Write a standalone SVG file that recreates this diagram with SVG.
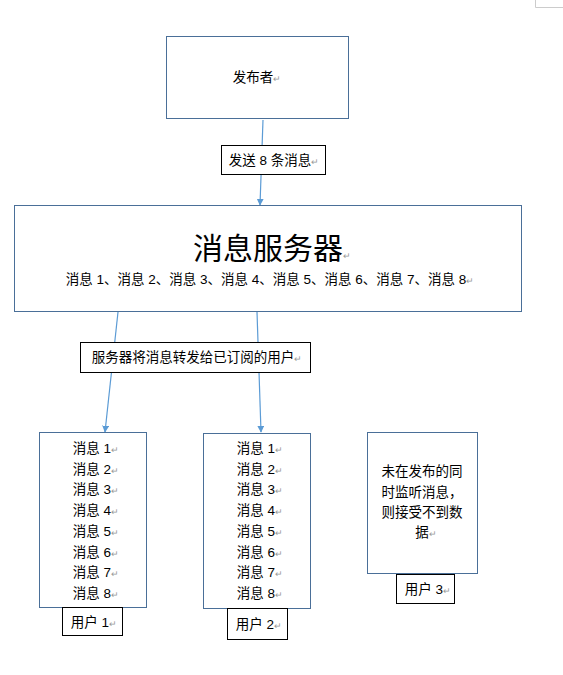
<svg xmlns="http://www.w3.org/2000/svg" width="563" height="675" viewBox="0 0 563 675">
<style>
.node{fill:#fff;stroke:#4a6f98;stroke-width:1}
.lbl{fill:#fff;stroke:#000;stroke-width:1}
.conn{stroke:#5b9bd5;stroke-width:1.2;fill:none;marker-end:url(#arr)}
text{font-family:"Liberation Sans","Noto Sans CJK SC",sans-serif;fill:#000;font-size:13.5px;text-anchor:middle}
.pm{fill:#999;font-size:9px}
.big{font-size:30px}
</style>
<defs>
<marker id="arr" viewBox="0 0 10 10" refX="9" refY="5" markerWidth="7" markerHeight="7" orient="auto" markerUnits="userSpaceOnUse">
<path d="M0,0 L10,5 L0,10 z" fill="#5b9bd5"/>
</marker>
</defs>
<rect width="563" height="675" fill="#fff"/>
<path d="M535.5,0 V7.5 H563" fill="none" stroke="#ccc" stroke-width="1"/>

<g id="connectors">
<line class="conn" x1="263" y1="120" x2="260" y2="205"/>
<line class="conn" x1="118" y1="312" x2="105" y2="432"/>
<line class="conn" x1="257" y1="312" x2="261" y2="432"/>
</g>

<g id="publisher">
<rect class="node" x="166.5" y="36.5" width="182" height="82"/>
<text x="257" y="82">发布者<tspan class="pm">↵</tspan></text>
</g>

<g id="label-send">
<rect class="lbl" x="221.5" y="145.5" width="104" height="29"/>
<text x="274" y="165">发送 8 条消息<tspan class="pm">↵</tspan></text>
</g>

<g id="server">
<rect class="node" x="14.5" y="205.5" width="507" height="106"/>
<text class="big" x="272" y="259">消息服务器<tspan class="pm">↵</tspan></text>
<text x="270" y="284">消息 1、消息 2、消息 3、消息 4、消息 5、消息 6、消息 7、消息 8<tspan class="pm">↵</tspan></text>
</g>

<g id="label-forward">
<rect class="lbl" x="80.5" y="342.5" width="230" height="30"/>
<text x="197" y="362">服务器将消息转发给已订阅的用户<tspan class="pm">↵</tspan></text>
</g>

<g id="user1-box">
<rect class="node" x="39.5" y="432.5" width="107" height="175"/>
<text x="96" y="453">消息 1<tspan class="pm">↵</tspan></text>
<text x="96" y="473.7">消息 2<tspan class="pm">↵</tspan></text>
<text x="96" y="494.4">消息 3<tspan class="pm">↵</tspan></text>
<text x="96" y="515.1">消息 4<tspan class="pm">↵</tspan></text>
<text x="96" y="535.8">消息 5<tspan class="pm">↵</tspan></text>
<text x="96" y="556.5">消息 6<tspan class="pm">↵</tspan></text>
<text x="96" y="577.2">消息 7<tspan class="pm">↵</tspan></text>
<text x="96" y="597.9">消息 8<tspan class="pm">↵</tspan></text>
</g>
<g id="user1-label">
<rect class="lbl" x="62.5" y="607.5" width="60" height="28"/>
<text x="94" y="627">用户 1<tspan class="pm">↵</tspan></text>
</g>

<g id="user2-box">
<rect class="node" x="203.5" y="433.5" width="107" height="175"/>
<text x="260" y="453">消息 1<tspan class="pm">↵</tspan></text>
<text x="260" y="473.7">消息 2<tspan class="pm">↵</tspan></text>
<text x="260" y="494.4">消息 3<tspan class="pm">↵</tspan></text>
<text x="260" y="515.1">消息 4<tspan class="pm">↵</tspan></text>
<text x="260" y="535.8">消息 5<tspan class="pm">↵</tspan></text>
<text x="260" y="556.5">消息 6<tspan class="pm">↵</tspan></text>
<text x="260" y="577.2">消息 7<tspan class="pm">↵</tspan></text>
<text x="260" y="597.9">消息 8<tspan class="pm">↵</tspan></text>
</g>
<g id="user2-label">
<rect class="lbl" x="227.5" y="608.5" width="60" height="31"/>
<text x="259" y="629">用户 2<tspan class="pm">↵</tspan></text>
</g>

<g id="user3-box">
<rect class="node" x="367.5" y="432.5" width="110" height="141"/>
<text x="422" y="476">未在发布的同</text>
<text x="422" y="497">时监听消息，</text>
<text x="422" y="517">则接受不到数</text>
<text x="426" y="537">据<tspan class="pm">↵</tspan></text>
</g>
<g id="user3-label">
<rect class="lbl" x="396.5" y="574.5" width="58" height="29"/>
<text x="428" y="594">用户 3<tspan class="pm">↵</tspan></text>
</g>
</svg>
